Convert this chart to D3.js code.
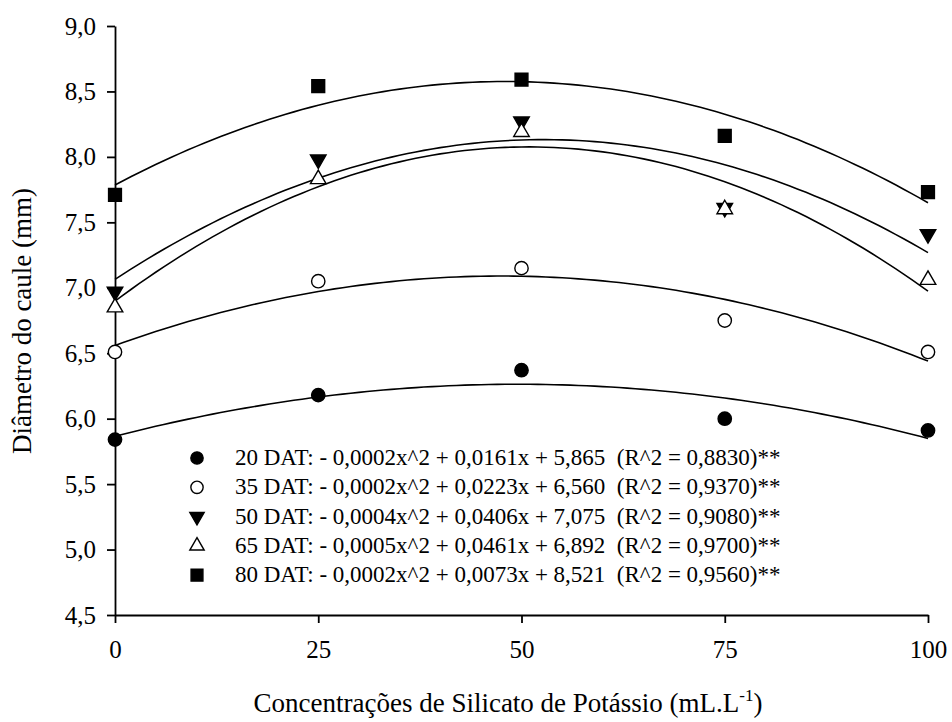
<!DOCTYPE html>
<html>
<head>
<meta charset="utf-8">
<script src="https://cdn.jsdelivr.net/npm/d3@7"></script>
<style>
  body { margin: 0; background: #fff; }
  svg text { font-family: "Liberation Serif", "Times New Roman", serif; }
</style>
</head>
<body>
<div class="canvas"></div>
<script>
// data
const doses = [0, 25, 50, 75, 100];
const dat20 = [5.84, 6.18, 6.37, 6.00, 5.91];
const dat35 = [6.51, 7.05, 7.15, 6.75, 6.51];
const dat50 = [6.97, 7.98, 8.27, 7.61, 7.41];
const dat65 = [6.85, 7.83, 8.19, 7.60, 7.06];
const dat80 = [7.71, 8.54, 8.59, 8.16, 7.73];

const seriesNames = ['20 DAT', '35 DAT', '50 DAT', '65 DAT', '80 DAT'];
const equations = [
    '- 0,0002x^2 + 0,0161x + 5,865  (R^2 = 0,8830)**',
    '- 0,0002x^2 + 0,0223x + 6,560  (R^2 = 0,9370)**',
    '- 0,0004x^2 + 0,0406x + 7,075  (R^2 = 0,9080)**',
    '- 0,0005x^2 + 0,0461x + 6,892  (R^2 = 0,9700)**',
    '- 0,0002x^2 + 0,0073x + 8,521  (R^2 = 0,9560)**'
];
const yTicks = [4.5, 5.0, 5.5, 6.0, 6.5, 7.0, 7.5, 8.0, 8.5, 9.0];
const xTicks = [0, 25, 50, 75, 100];

const series = [dat20, dat35, dat50, dat65, dat80];
const markers = [
    { type: d3.symbolCircle, fill: '#000', rot: 0, size: 140 },
    { type: d3.symbolCircle, fill: '#fff', rot: 0, size: 140 },
    { type: d3.symbolTriangle, fill: '#000', rot: 180, size: 105 },
    { type: d3.symbolTriangle, fill: '#fff', rot: 0, size: 105 },
    { type: d3.symbolSquare, fill: '#000', rot: 0, size: 165 }
];

const svg = d3.select('.canvas')
    .append('svg')
    .attr('width', 952)
    .attr('height', 722);

const x = d3.scaleLinear().domain([0, 100]).range([115, 928]);
const y = d3.scaleLinear().domain([4.5, 9]).range([615, 26]);

// quadratic least squares fit y = a + b x + c x^2
function quadFit(xs, ys) {
    let s = [0, 0, 0, 0, 0], t = [0, 0, 0];
    xs.forEach((xi, i) => {
        for (let k = 0; k < 5; k++) s[k] += Math.pow(xi, k);
        for (let k = 0; k < 3; k++) t[k] += ys[i] * Math.pow(xi, k);
    });
    const m = [[s[0], s[1], s[2], t[0]], [s[1], s[2], s[3], t[1]], [s[2], s[3], s[4], t[2]]];
    for (let i = 0; i < 3; i++) {
        for (let j = i + 1; j < 3; j++) {
            const f = m[j][i] / m[i][i];
            for (let k = i; k < 4; k++) m[j][k] -= f * m[i][k];
        }
    }
    const c = [0, 0, 0];
    for (let i = 2; i >= 0; i--) {
        let v = m[i][3];
        for (let k = i + 1; k < 3; k++) v -= m[i][k] * c[k];
        c[i] = v / m[i][i];
    }
    return c;
}

const line = d3.line()
    .x(d => x(d[0]))
    .y(d => y(d[1]));

// fitted curves
const curves = svg.append('g');
series.forEach(vals => {
    const c = quadFit(doses, vals);
    const pts = d3.range(0, 100.5, 1).map(xv => [xv, c[0] + c[1] * xv + c[2] * xv * xv]);
    curves.append('path')
        .attr('d', line(pts))
        .attr('fill', 'none')
        .attr('stroke', '#000')
        .attr('stroke-width', 1.6);
});

// axes
const xAxis = d3.axisBottom(x).tickValues(xTicks).tickSize(8).tickSizeOuter(0).tickPadding(17)
    .tickFormat(d => d);
const yAxis = d3.axisLeft(y).tickValues(yTicks).tickSize(8).tickSizeOuter(0).tickPadding(11)
    .tickFormat(d => d3.format('.1f')(d).replace('.', ','));

const xAxisGroup = svg.append('g').attr('transform', `translate(0, ${y(4.5)})`).call(xAxis);
const yAxisGroup = svg.append('g').attr('transform', `translate(${x(0)}, 0)`).call(yAxis);

[xAxisGroup, yAxisGroup].forEach(g => {
    g.attr('font-family', null).attr('font-size', null);
    g.selectAll('path, line').attr('stroke', '#000').attr('stroke-width', 1.8);
    g.selectAll('text')
        .attr('fill', '#000')
        .style('font-size', '25px');
});

// points
const sym = d3.symbol();
series.forEach((vals, si) => {
    const mk = markers[si];
    svg.append('g').selectAll('path')
        .data(vals)
        .enter()
        .append('path')
        .attr('d', sym.type(mk.type).size(mk.size)())
        .attr('transform', (d, i) => `translate(${x(doses[i])}, ${y(d)}) rotate(${mk.rot})`)
        .attr('fill', mk.fill)
        .attr('stroke', '#000')
        .attr('stroke-width', 1.4);
});

// legend
const legend = svg.append('g').attr('transform', 'translate(197, 458)');
seriesNames.forEach((name, i) => {
    const row = legend.append('g').attr('transform', `translate(0, ${i * 29.3})`);
    const mk = markers[i];
    row.append('path')
        .attr('d', sym.type(mk.type).size(mk.size * 0.85)())
        .attr('transform', `rotate(${mk.rot})`)
        .attr('fill', mk.fill)
        .attr('stroke', '#000')
        .attr('stroke-width', 1.4);
    row.append('text')
        .attr('x', 38)
        .attr('y', 7)
        .style('font-size', '23px')
        .attr('xml:space', 'preserve')
        .text(`${name}: ${equations[i]}`);
});

// axis titles
const xTitle = svg.append('text')
    .attr('x', 508)
    .attr('y', 712)
    .attr('text-anchor', 'middle')
    .style('font-size', '27px');
xTitle.append('tspan').text('Concentrações de Silicato de Potássio (mL.L');
xTitle.append('tspan').attr('dy', -11).style('font-size', '17px').text('-1');
xTitle.append('tspan').attr('dy', 11).text(')');

svg.append('text')
    .attr('transform', `translate(31, 321) rotate(-90)`)
    .attr('text-anchor', 'middle')
    .style('font-size', '27px')
    .text('Diâmetro do caule (mm)');
</script>
</body>
</html>
